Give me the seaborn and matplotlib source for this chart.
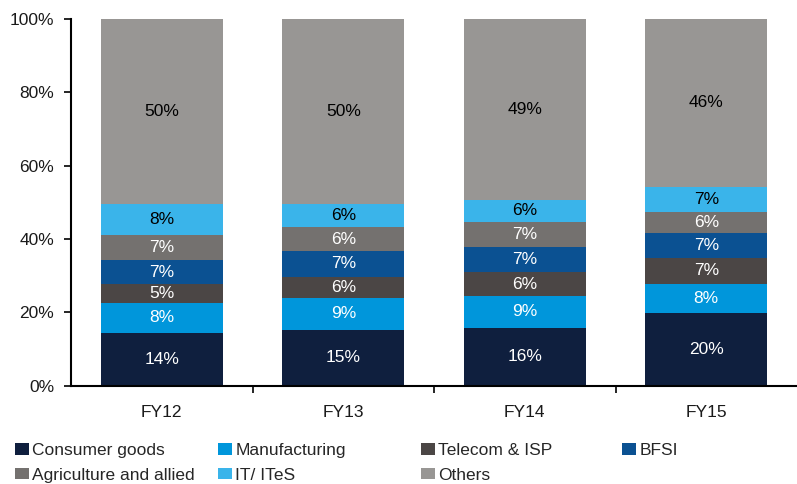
import matplotlib
matplotlib.use("Agg")
import matplotlib.pyplot as plt
import seaborn as sns
import pandas as pd
from matplotlib.patches import Patch
from matplotlib.ticker import FixedLocator, FuncFormatter

# Sector shares of the loan book by financial year (%)
years = ["FY12", "FY13", "FY14", "FY15"]
segments = ["Consumer goods", "Manufacturing", "Telecom & ISP", "BFSI",
            "Agriculture and allied", "IT/ ITeS", "Others"]
consumer_goods = [14.4, 15.2, 15.7, 19.8]
manufacturing = [8.2, 8.8, 8.8, 8.0]
telecom_isp = [5.0, 5.6, 6.4, 7.0]
bfsi = [6.6, 7.2, 7.0, 6.9]
agriculture = [7.0, 6.4, 6.7, 5.6]
it_ites = [8.4, 6.4, 6.1, 6.9]
others = [50.4, 50.4, 49.3, 45.8]
y_ticks = [0, 20, 40, 60, 80, 100]

colors = ["#0F1F3E", "#0096DB", "#4B4645", "#0B5192",
          "#74716F", "#3AB4EA", "#989694"]
label_colors = ["white", "white", "white", "white", "white", "black", "black"]

series = [consumer_goods, manufacturing, telecom_isp, bfsi,
          agriculture, it_ites, others]
df = pd.DataFrame([
    {"year": y, "segment": s, "share": v}
    for s, vals in zip(segments, series)
    for y, v in zip(years, vals)
])

sns.set_style("white")
plt.rcParams["font.family"] = ["Liberation Sans", "DejaVu Sans"]
FS = 12.5

fig = plt.figure(figsize=(7.97, 4.84), dpi=100)
ax = fig.add_axes([71 / 797, 1 - 385.7 / 484, 1 - 71 / 797, (385.7 - 19) / 484])

bottom = [0.0] * len(years)
for seg, col, lc in zip(segments, colors, label_colors):
    sub = df[df["segment"] == seg].set_index("year").loc[years].reset_index()
    sns.barplot(data=sub, x="year", y="share", order=years, color=col,
                saturation=1, width=0.67, bottom=bottom, errorbar=None,
                linewidth=0, ax=ax)
    cont = ax.containers[-1]
    ax.bar_label(cont, labels=[f"{v:.0f}%" for v in sub["share"]],
                 label_type="center", color=lc, fontsize=FS)
    bottom = [b + v for b, v in zip(bottom, sub["share"])]

ax.set_ylim(0, 100)
ax.set_xlim(-0.5, 3.5)
ax.yaxis.set_major_locator(FixedLocator(y_ticks))
ax.yaxis.set_major_formatter(FuncFormatter(lambda v, p: f"{v:.0f}%"))
ax.set_xlabel("")
ax.set_ylabel("")

for side in ["top", "right"]:
    ax.spines[side].set_visible(False)
for side in ["left", "bottom"]:
    ax.spines[side].set_color("black")
    ax.spines[side].set_linewidth(1.5)

ax.tick_params(axis="y", which="major", direction="out", length=5, width=1.2,
               color="black", labelsize=FS, pad=7, left=True)
ax.tick_params(axis="x", which="major", length=0, labelsize=FS, pad=14)
ax.xaxis.set_minor_locator(FixedLocator([0.5, 1.5, 2.5]))
ax.tick_params(axis="x", which="minor", direction="out", length=5, width=1.2,
               color="black", bottom=True)
for t in ax.get_yticklabels() + ax.get_xticklabels():
    t.set_color("#1a1a1a")

# Legend laid out in four fixed-width columns, two rows
handles = [Patch(facecolor=c, edgecolor="none") for c in colors]
columns = [[0, 4], [1, 5], [2, 6], [3]]
col_x = [15 / 797, 218 / 797, 421 / 797, 622 / 797]
for cx, idx in zip(col_x, columns):
    fig.legend([handles[i] for i in idx], [segments[i] for i in idx],
               loc="upper left", bbox_to_anchor=(cx, 1 - 443 / 484),
               frameon=False, fontsize=FS, handlelength=0.8,
               handleheight=0.65, handletextpad=0.2, labelspacing=0.55,
               borderaxespad=0, borderpad=0)

fig.savefig("out.png", dpi=100)
